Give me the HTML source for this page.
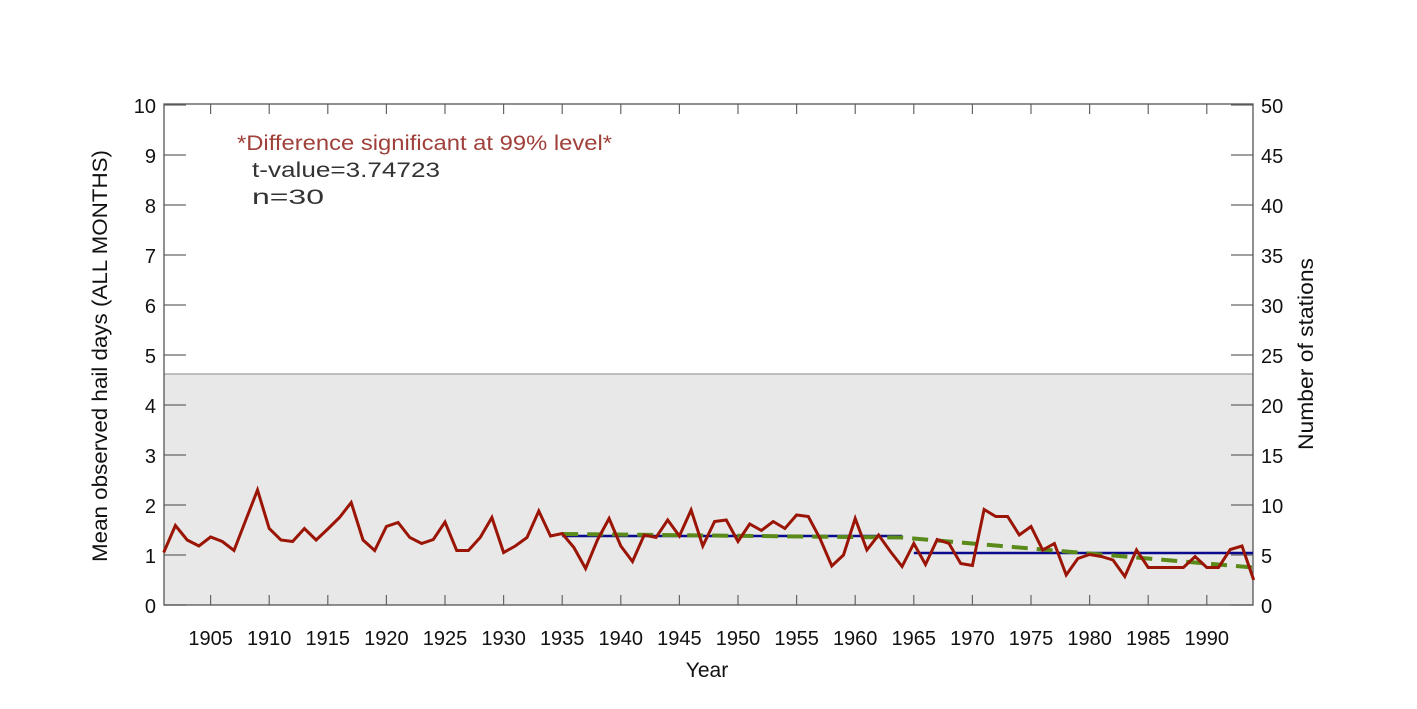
<!DOCTYPE html>
<html><head><meta charset="utf-8"><style>
html,body{margin:0;padding:0;background:#fff;}
svg{display:block;font-family:"Liberation Sans",Arial,sans-serif;}
</style></head><body>
<svg id="s" width="1417" height="709" viewBox="0 0 1417 709" xmlns="http://www.w3.org/2000/svg">
<rect x="0" y="0" width="1417" height="709" fill="#fff"/>
<rect x="164" y="374" width="1089" height="231" fill="#e8e8e8"/>
<line x1="164" y1="374" x2="1253" y2="374" stroke="#888" stroke-width="1"/>
<g id="ticks" stroke="#666" stroke-width="1.2"></g>
<g id="labels" font-size="20" fill="#111"></g>
<rect x="164" y="104" width="1089" height="501" fill="none" stroke="#555" stroke-width="1.3"/>
<line id="b1" stroke="#0a0a8c" stroke-width="2.5"/>
<line id="b2" stroke="#0a0a8c" stroke-width="2.5"/>
<polyline id="g1" fill="none" stroke="#5a8a1a" stroke-width="4" stroke-dasharray="16,9"/>
<polyline id="red" fill="none" stroke="#9a1505" stroke-width="3" stroke-linejoin="miter"/>
<text x="237" y="150" font-size="21" fill="#a0403a" textLength="375" lengthAdjust="spacingAndGlyphs">*Difference significant at 99% level*</text>
<text x="252" y="177" font-size="21" fill="#333" textLength="188" lengthAdjust="spacingAndGlyphs">t-value=3.74723</text>
<text x="252" y="204" font-size="21" fill="#333" textLength="72" lengthAdjust="spacingAndGlyphs">n=30</text>
<text x="707" y="677" font-size="21" fill="#111" text-anchor="middle">Year</text>
<text transform="translate(107,356) rotate(-90)" font-size="21" fill="#111" text-anchor="middle" textLength="412" lengthAdjust="spacingAndGlyphs">Mean observed hail days (ALL MONTHS)</text>
<text transform="translate(1313,354) rotate(-90)" font-size="21" fill="#111" text-anchor="middle" textLength="192" lengthAdjust="spacingAndGlyphs">Number of stations</text>
</svg>
<script>
var X=function(y){return 152+(y-1900)*11.72;};
var Y=function(v){return 605-v*50;};
var d=[1.05,1.59,1.30,1.18,1.36,1.27,1.09,1.7,2.30,1.53,1.30,1.27,1.53,1.30,1.52,1.75,2.05,1.30,1.09,1.57,1.65,1.35,1.23,1.31,1.66,1.09,1.09,1.35,1.75,1.05,1.18,1.35,1.88,1.38,1.43,1.15,0.73,1.3,1.73,1.18,0.87,1.4,1.35,1.7,1.38,1.9,1.18,1.67,1.7,1.27,1.62,1.49,1.67,1.53,1.8,1.77,1.33,0.78,1.0,1.73,1.1,1.4,1.07,0.77,1.23,0.81,1.31,1.23,0.83,0.79,1.91,1.77,1.77,1.4,1.57,1.1,1.23,0.6,0.93,1.01,0.97,0.9,0.57,1.1,0.75,0.75,0.75,0.75,0.97,0.75,0.75,1.11,1.18,0.5];
var p=d.map(function(v,i){return X(1901+i).toFixed(1)+","+Y(v).toFixed(1);}).join(" ");
document.getElementById("red").setAttribute("points",p);
function L(id,x1,y1,x2,y2){var e=document.getElementById(id);e.setAttribute("x1",x1);e.setAttribute("y1",y1);e.setAttribute("x2",x2);e.setAttribute("y2",y2);}
L("b1",X(1935),536,X(1964),536);
L("b2",X(1965),553,1253,553);
document.getElementById("g1").setAttribute("points",X(1935)+",534 "+X(1964)+",537.5 1253,567.5");
var t=document.getElementById("ticks"),lb=document.getElementById("labels"),ns="http://www.w3.org/2000/svg";
function ln(a,b,c,e){var l=document.createElementNS(ns,"line");l.setAttribute("x1",a);l.setAttribute("y1",b);l.setAttribute("x2",c);l.setAttribute("y2",e);t.appendChild(l);}
function tx(x,y,s,a){var l=document.createElementNS(ns,"text");l.setAttribute("x",x);l.setAttribute("y",y);l.setAttribute("text-anchor",a);l.textContent=s;lb.appendChild(l);}
for(var i=0;i<=10;i++){var y=Y(i);ln(164,y,186,y);ln(1231,y,1253,y);tx(156,y+8,String(i),"end");tx(1261,y+8,String(i*5),"start");}
for(var yr=1905;yr<=1990;yr+=5){var x=X(yr);ln(x,605,x,595);ln(x,104,x,114);tx(x,645,String(yr),"middle");}
</script>
</body></html>
